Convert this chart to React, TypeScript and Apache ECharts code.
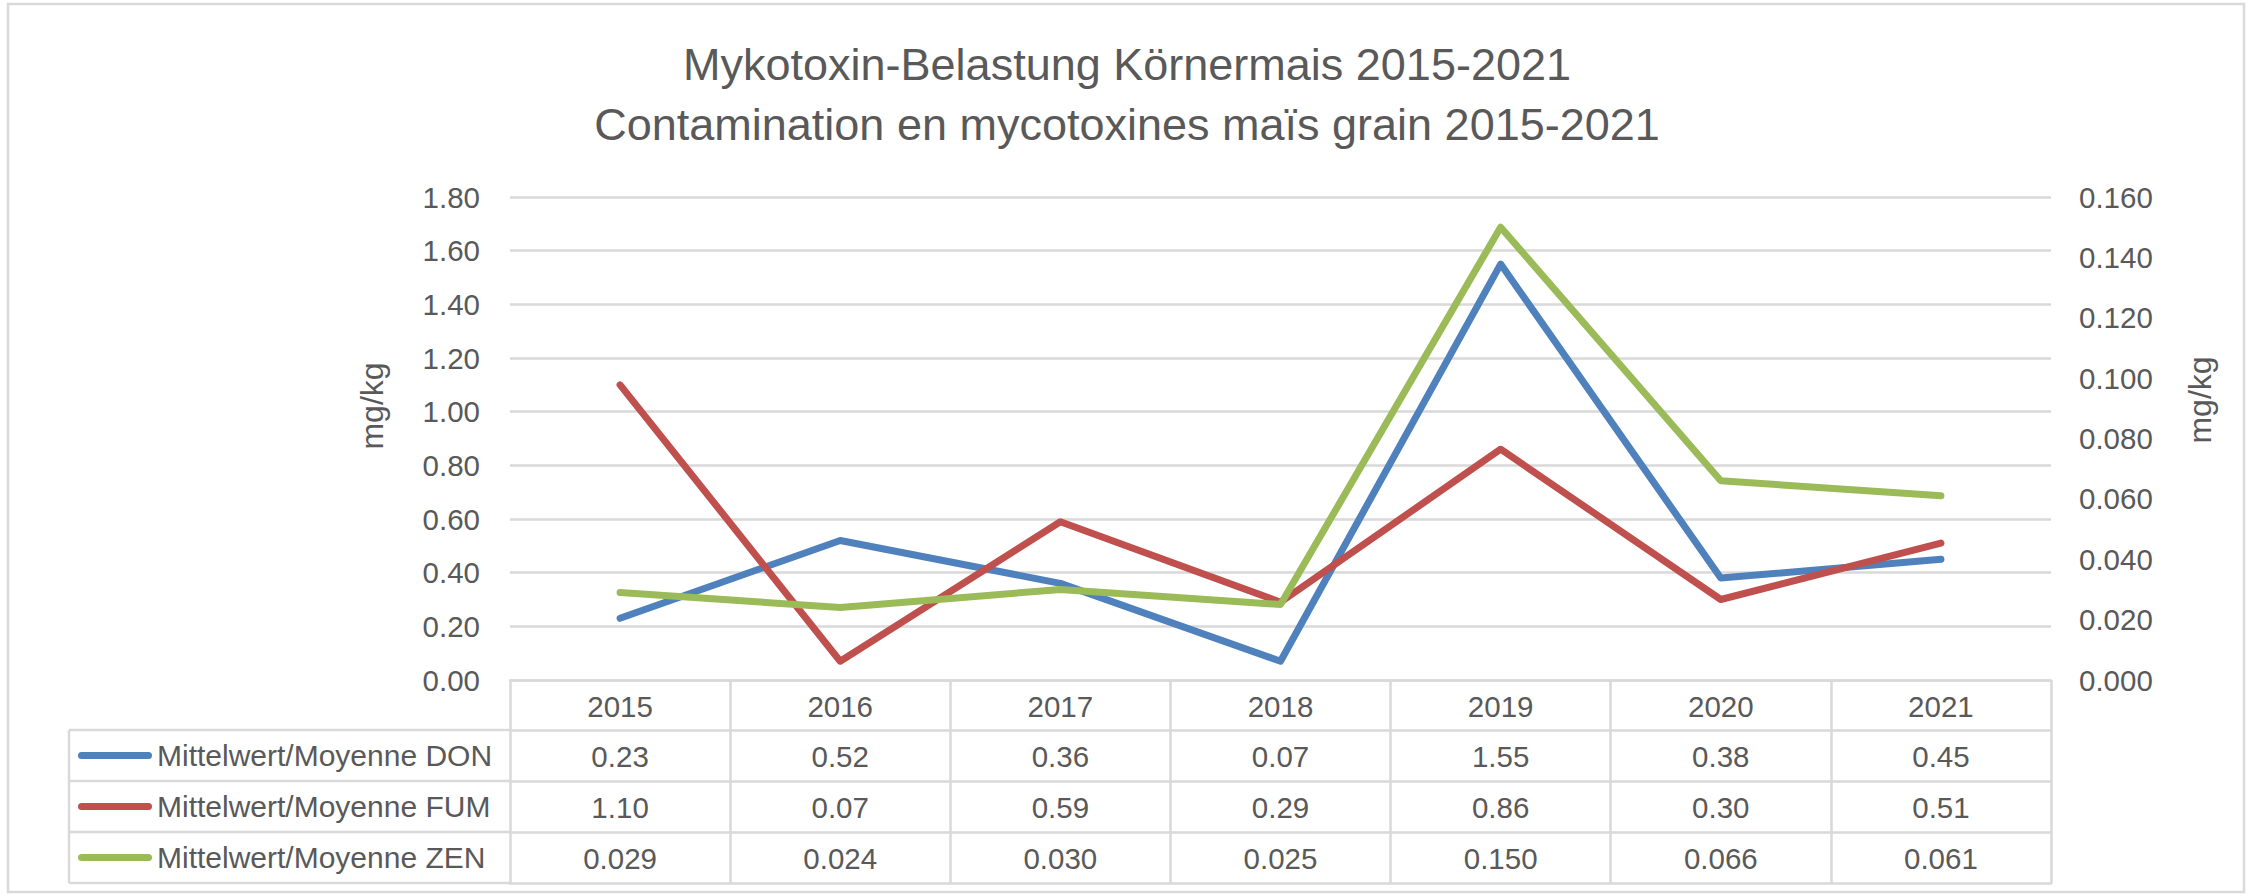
import React, { useEffect, useRef } from "react";
import * as echarts from "echarts";

const categories = ["2015", "2016", "2017", "2018", "2019", "2020", "2021"];
const donValues = [0.23, 0.52, 0.36, 0.07, 1.55, 0.38, 0.45];
const fumValues = [1.1, 0.07, 0.59, 0.29, 0.86, 0.3, 0.51];
const zenValues = [0.029, 0.024, 0.03, 0.025, 0.15, 0.066, 0.061];
const seriesNames = [
  "Mittelwert/Moyenne DON",
  "Mittelwert/Moyenne FUM",
  "Mittelwert/Moyenne ZEN",
];
const seriesColors = ["#4F81BD", "#C0504D", "#9BBB59"];
const leftAxis = { min: 0, max: 1.8, interval: 0.2, digits: 2 };
const rightAxis = { min: 0, max: 0.16, interval: 0.02, digits: 3 };
const titleLines = [
  "Mykotoxin-Belastung Körnermais 2015-2021",
  "Contamination en mycotoxines maïs grain 2015-2021",
];
const unitLabel = "mg/kg";

const FONT = "'Liberation Sans', Arial, sans-serif";
const TEXT = "#595959";
const GRIDC = "#D9D9D9";

export default function App() {
  const ref = useRef<HTMLDivElement>(null);
  useEffect(() => {
    document.body.style.margin = "0";
    if (!ref.current) return;
    const chart = echarts.init(ref.current, null, { renderer: "svg" });

    const gridLeft = 510;
    const gridRight = 203;
    const gridTop = 197;
    const gridBottom = 216;
    const W = 2254;
    const H = 896;
    const axisY = H - gridBottom; // 680
    const rowOffsets = [50, 101, 152];
    const bottomOffset = 203;

    const rows = [
      { values: donValues, digits: 2 },
      { values: fumValues, digits: 2 },
      { values: zenValues, digits: 3 },
    ];

    const lineStyleGray = { color: GRIDC, width: 2.5 };
    const labelStyle = { fontSize: 29.5, color: TEXT, fontFamily: FONT };

    const xAxes: any[] = [
      {
        type: "category",
        data: categories,
        position: "bottom",
        offset: 0,
        boundaryGap: true,
        axisLine: { show: true, onZero: false, lineStyle: lineStyleGray },
        axisTick: { show: true, length: 50, interval: 0, lineStyle: lineStyleGray },
        axisLabel: { ...labelStyle, margin: 11, interval: 0 },
        splitLine: { show: false },
      },
      ...rows.map((r, i) => ({
        type: "category",
        data: categories,
        position: "bottom",
        offset: rowOffsets[i],
        boundaryGap: true,
        axisLine: { show: true, onZero: false, lineStyle: lineStyleGray },
        axisTick: { show: true, length: 51, interval: 0, lineStyle: lineStyleGray },
        axisLabel: {
          ...labelStyle,
          margin: 11,
          interval: 0,
          formatter: (_v: string, idx: number) => r.values[idx].toFixed(r.digits),
        },
        splitLine: { show: false },
      })),
      {
        type: "category",
        data: categories,
        position: "bottom",
        offset: bottomOffset,
        axisLine: { show: true, onZero: false, lineStyle: lineStyleGray },
        axisTick: { show: false },
        axisLabel: { show: false },
        splitLine: { show: false },
      },
    ];

    const legendLeft = 69;
    const rowTops = [axisY + rowOffsets[0], axisY + rowOffsets[1], axisY + rowOffsets[2], axisY + bottomOffset];
    const tableLines: any[] = rowTops.map((y) => ({
      type: "line",
      shape: { x1: legendLeft, y1: y, x2: gridLeft, y2: y },
      style: { stroke: GRIDC, lineWidth: 2.5 },
    }));
    tableLines.push({
      type: "line",
      shape: { x1: legendLeft, y1: rowTops[0], x2: legendLeft, y2: rowTops[3] },
      style: { stroke: GRIDC, lineWidth: 2.5 },
    });

    const option: any = {
      animation: false,
      backgroundColor: "#ffffff",
      title: {
        text: titleLines.join("\n"),
        left: "center",
        top: 34,
        padding: 0,
        textStyle: {
          fontSize: 45,
          fontWeight: "normal",
          color: TEXT,
          fontFamily: FONT,
          lineHeight: 60,
        },
      },
      legend: {
        data: seriesNames,
        orient: "vertical",
        left: 78,
        top: axisY + rowOffsets[0],
        padding: 0,
        itemGap: 0,
        itemWidth: 74,
        itemHeight: 7,
        icon: "path://M3.5,0 H70.5 A3.5,3.5 0 0 1 70.5,7 H3.5 A3.5,3.5 0 0 1 3.5,0 Z",
        selectedMode: false,
        textStyle: { fontSize: 30, color: TEXT, fontFamily: FONT, lineHeight: 51 },
      },
      grid: {
        left: gridLeft,
        right: gridRight,
        top: gridTop,
        bottom: gridBottom,
        containLabel: false,
      },
      xAxis: xAxes,
      yAxis: [
        {
          type: "value",
          position: "left",
          min: leftAxis.min,
          max: leftAxis.max,
          interval: leftAxis.interval,
          axisLine: { show: false },
          axisTick: { show: false },
          axisLabel: {
            ...labelStyle,
            margin: 30,
            formatter: (v: number) => v.toFixed(leftAxis.digits),
          },
          splitLine: { show: true, lineStyle: lineStyleGray },
        },
        {
          type: "value",
          position: "right",
          min: rightAxis.min,
          max: rightAxis.max,
          interval: rightAxis.interval,
          axisLine: { show: false },
          axisTick: { show: false },
          axisLabel: {
            ...labelStyle,
            margin: 28,
            formatter: (v: number) => v.toFixed(rightAxis.digits),
          },
          splitLine: { show: false },
        },
      ],
      series: [donValues, fumValues, zenValues].map((vals, i) => ({
        name: seriesNames[i],
        type: "line",
        xAxisIndex: 0,
        yAxisIndex: i === 2 ? 1 : 0,
        data: vals,
        symbol: "none",
        showSymbol: false,
        color: seriesColors[i],
        lineStyle: { color: seriesColors[i], width: 7, cap: "round", join: "round" },
        z: 3 + i,
      })),
      graphic: [
        {
          type: "rect",
          shape: { x: 8, y: 4, width: W - 18, height: H - 8 },
          style: { fill: "none", stroke: GRIDC, lineWidth: 2.5 },
          silent: true,
        },
        {
          type: "text",
          x: 372,
          y: 406,
          rotation: Math.PI / 2,
          style: {
            text: unitLabel,
            fontSize: 32,
            fill: TEXT,
            fontFamily: FONT,
            align: "center",
            verticalAlign: "middle",
          },
        },
        {
          type: "text",
          x: 2200,
          y: 400,
          rotation: Math.PI / 2,
          style: {
            text: unitLabel,
            fontSize: 32,
            fill: TEXT,
            fontFamily: FONT,
            align: "center",
            verticalAlign: "middle",
          },
        },
        ...tableLines,
      ],
    };

    chart.setOption(option);
    return () => {
      chart.dispose();
    };
  }, []);

  return <div ref={ref} style={{ width: 2254, height: 896 }} />;
}
